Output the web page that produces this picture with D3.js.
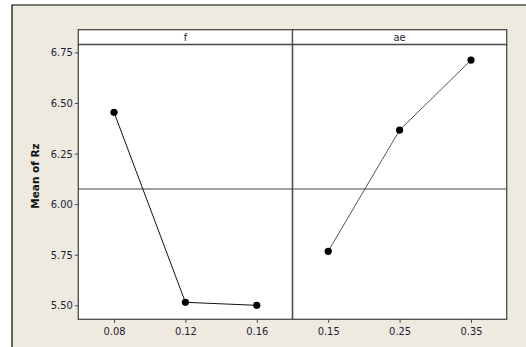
<!DOCTYPE html>
<html><head><meta charset="utf-8">
<script src="https://cdn.jsdelivr.net/npm/d3@7"></script>
<style>html,body{margin:0;padding:0;background:#fff;}svg{display:block;}</style>
</head><body>
<svg id="c" width="526" height="347"></svg>
<script>
const factors = ["f", "ae"];
const fLevels = ["0.08", "0.12", "0.16"];
const fMeans = [6.454, 5.515, 5.50];
const aeLevels = ["0.15", "0.25", "0.35"];
const aeMeans = [5.767, 6.366, 6.712];
const overallMean = 6.075;
const yTicks = [5.50, 5.75, 6.00, 6.25, 6.50, 6.75];
const yLabel = "Mean of Rz";

const panels = [
  {name: factors[0], levels: fLevels, means: fMeans, lineColor: "#111"},
  {name: factors[1], levels: aeLevels, means: aeMeans, lineColor: "#555"}
];

const svg = d3.select("#c");
const W = 526, H = 347;
const font = "'DejaVu Sans Condensed','DejaVu Sans',sans-serif";
const textCol = "#1c1c38";
const frameCol = "#4a4a4a";

// background + outer frame
svg.append("rect").attr("x", 12).attr("y", 5).attr("width", W - 12).attr("height", H - 5).attr("fill", "#eeeae0");
svg.append("path").attr("d", `M12,${H}V5H${W}`).attr("fill", "none").attr("stroke", "#000").attr("stroke-width", 1.2);

const left = 78.3, right = 506.7, stripTop = 29.7, plotTop = 44.5, plotBottom = 319.3;
const panelW = (right - left) / panels.length;

const y = d3.scaleLinear().domain([5.431, 6.789]).range([plotBottom, plotTop]);

// y axis
const yAxis = svg.append("g").attr("transform", `translate(${left},0)`)
  .call(d3.axisLeft(y).tickValues(yTicks).tickFormat(d3.format(".2f")).tickSize(3.5).tickPadding(2));
yAxis.select(".domain").remove();
yAxis.selectAll("line").attr("stroke", frameCol);
yAxis.selectAll("text").attr("font-family", font).attr("font-size", 11).attr("fill", textCol);

svg.append("text").attr("transform", `translate(38.5,176) rotate(-90)`)
  .attr("text-anchor", "middle").attr("font-family", "'DejaVu Sans',sans-serif").attr("font-weight", "bold")
  .attr("font-size", 10.5).attr("fill", "#111").text(yLabel);

panels.forEach((p, i) => {
  const x0 = left + i * panelW, x1 = x0 + panelW;
  const x = d3.scalePoint().domain(p.levels).range([x0, x1]).padding(0.5);
  const g = svg.append("g");
  g.append("rect").attr("x", x0).attr("y", stripTop).attr("width", panelW).attr("height", plotBottom - stripTop).attr("fill", "#fff");
  const xa = svg.append("g").attr("transform", `translate(0,${plotBottom})`)
    .call(d3.axisBottom(x).tickSize(3.5).tickPadding(4));
  xa.select(".domain").remove();
  xa.selectAll("line").attr("stroke", frameCol);
  xa.selectAll("text").attr("font-family", font).attr("font-size", 11).attr("fill", textCol);
  p.x = x; p.x0 = x0; p.x1 = x1;
});

// mean line across all panels
svg.append("line").attr("x1", left).attr("x2", right).attr("y1", y(overallMean)).attr("y2", y(overallMean))
  .attr("stroke", "#808080").attr("stroke-width", 1.3);

panels.forEach(p => {
  const pts = p.levels.map((l, j) => [p.x(l), y(p.means[j])]);
  svg.append("path").attr("d", d3.line()(pts)).attr("fill", "none").attr("stroke", p.lineColor).attr("stroke-width", 1);
  svg.selectAll(null).data(pts).enter().append("circle")
    .attr("cx", d => d[0]).attr("cy", d => d[1]).attr("r", 3.6).attr("fill", "#000");
  svg.append("rect").attr("x", p.x0).attr("y", stripTop).attr("width", p.x1 - p.x0).attr("height", plotTop - stripTop)
    .attr("fill", "#fff").attr("stroke", frameCol).attr("stroke-width", 1.3);
  svg.append("text").attr("x", (p.x0 + p.x1) / 2).attr("y", plotTop - 4).attr("text-anchor", "middle")
    .attr("font-family", font).attr("font-size", 11).attr("fill", textCol).text(p.name);
  svg.append("rect").attr("x", p.x0).attr("y", plotTop).attr("width", p.x1 - p.x0).attr("height", plotBottom - plotTop)
    .attr("fill", "none").attr("stroke", frameCol).attr("stroke-width", 1.3);
});
</script>
</body></html>
